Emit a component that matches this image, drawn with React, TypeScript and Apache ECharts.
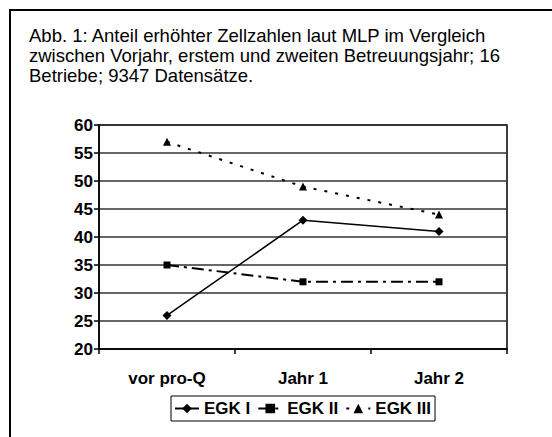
import React, { useEffect, useRef } from "react";
import * as echarts from "echarts";

const categories = ["vor pro-Q", "Jahr 1", "Jahr 2"];
const seriesNames = ["EGK I", "EGK II", "EGK III"];
const egk1 = [26, 43, 41];
const egk2 = [35, 32, 32];
const egk3 = [57, 49, 44];
const yMin = 20;
const yMax = 60;
const yStep = 5;
const titleText =
  "Abb. 1: Anteil erhöhter Zellzahlen laut MLP im Vergleich\nzwischen Vorjahr, erstem und zweiten Betreuungsjahr; 16\nBetriebe; 9347 Datensätze.";

const FONT = "'Liberation Sans', Arial, Helvetica, sans-serif";

export default function App() {
  const ref = useRef<HTMLDivElement>(null);
  useEffect(() => {
    if (!ref.current) return;
    const chart = echarts.init(ref.current, null, { renderer: "svg" });
    chart.setOption({
      animation: false,
      backgroundColor: "#fff",
      textStyle: { fontFamily: FONT },
      title: {
        text: titleText,
        left: 24,
        top: 20,
        textStyle: {
          fontFamily: FONT,
          fontSize: 18.5,
          fontWeight: "normal",
          color: "#000",
          lineHeight: 20,
        },
      },
      graphic: [
        { type: "line", shape: { x1: 9, y1: 10, x2: 552, y2: 10 }, style: { stroke: "#000", lineWidth: 2 } },
        { type: "line", shape: { x1: 10, y1: 9, x2: 10, y2: 437 }, style: { stroke: "#000", lineWidth: 2 } },
      ],
      grid: {
        left: 99,
        top: 125,
        right: 45,
        bottom: 88,
        show: true,
        borderColor: "#000",
        borderWidth: 1.5,
      },
      legend: {
        data: seriesNames,
        left: 171,
        top: 396,
        padding: [4, 4, 4, 3],
        itemGap: 7,
        itemWidth: 24,
        itemHeight: 12,
        itemTextGap: 7,
        borderColor: "#000",
        borderWidth: 1,
        textStyle: { fontFamily: FONT, fontSize: 17, fontWeight: "bold", color: "#000" },
      },
      xAxis: {
        type: "category",
        data: categories,
        boundaryGap: true,
        axisLine: { lineStyle: { color: "#000", width: 1.5 } },
        axisTick: { show: true, length: 5, alignWithLabel: false, lineStyle: { color: "#000", width: 1.5 } },
        axisLabel: { margin: 21, fontFamily: FONT, fontSize: 17, fontWeight: "bold", color: "#000" },
        splitLine: { show: false },
      },
      yAxis: {
        type: "value",
        min: yMin,
        max: yMax,
        interval: yStep,
        axisLine: { show: true, lineStyle: { color: "#000", width: 1.5 } },
        axisTick: { show: true, length: 5, lineStyle: { color: "#000", width: 1.5 } },
        axisLabel: { margin: 6, fontFamily: FONT, fontSize: 17, fontWeight: "bold", color: "#000" },
        splitLine: { show: true, lineStyle: { color: "#333", width: 1.5 } },
      },
      series: [
        {
          name: seriesNames[0],
          type: "line",
          data: egk1,
          symbol: "diamond",
          symbolSize: 9,
          itemStyle: { color: "#000" },
          lineStyle: { color: "#000", width: 1.5, type: "solid" },
        },
        {
          name: seriesNames[1],
          type: "line",
          data: egk2,
          symbol: "rect",
          symbolSize: 7,
          itemStyle: { color: "#000" },
          lineStyle: { color: "#000", width: 2, type: [12, 5, 3, 5] },
        },
        {
          name: seriesNames[2],
          type: "line",
          data: egk3,
          symbol: "triangle",
          symbolSize: 8,
          itemStyle: { color: "#000" },
          lineStyle: { color: "#000", width: 2, type: [3, 8] },
        },
      ],
    });
    return () => chart.dispose();
  }, []);
  return (
    <div
      ref={ref}
      style={{ position: "absolute", left: 0, top: 0, width: 552, height: 437 }}
    />
  );
}
